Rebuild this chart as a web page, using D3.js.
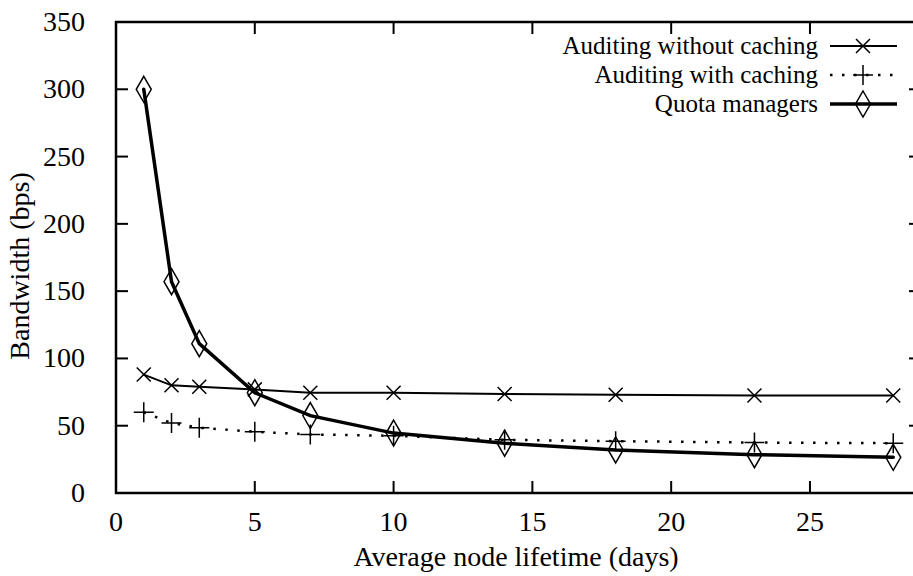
<!DOCTYPE html>
<html>
<head>
<meta charset="utf-8">
<script src="https://cdnjs.cloudflare.com/ajax/libs/d3/7.8.5/d3.min.js"></script>
</head>
<body style="margin:0; background:#fff">
<div id="chart"></div>
<script>
// lifetimes (days) and measured bandwidths (bps)
const lifetimes = [1, 2, 3, 5, 7, 10, 14, 18, 23, 28];
const noCaching = [88, 80, 79, 77, 74.5, 74.5, 73.5, 73, 72.5, 72.5];
const withCaching = [60, 52, 48.5, 45.5, 43.5, 42.5, 39.5, 38.5, 37.5, 37];
const quota = [300, 157, 111, 74.5, 57.5, 44.5, 37, 32, 28.5, 26.5];

const seriesNames = ["Auditing without caching", "Auditing with caching", "Quota managers"];
const xTicks = [0, 5, 10, 15, 20, 25];
const yTicks = [0, 50, 100, 150, 200, 250, 300, 350];

const width = 913, height = 576;
const margin = { left: 116, right: -8, top: 22, bottom: 83 };
const fs = 28;
const font = "'Liberation Serif', serif";

const svg = d3.select("#chart").append("svg")
  .attr("width", width)
  .attr("height", height);

const x = d3.scaleLinear().domain([0, 29]).range([margin.left, width - margin.right]);
const y = d3.scaleLinear().domain([0, 350]).range([height - margin.bottom, margin.top]);

function label(sel, size) {
  return sel.style("font-family", font).attr("font-size", size || fs).attr("fill", "#000");
}

// frame
svg.append("rect")
  .attr("x", x(0)).attr("y", y(350))
  .attr("width", x(29) - x(0)).attr("height", y(0) - y(350))
  .attr("fill", "none").attr("stroke", "#000").attr("stroke-width", 2.5);

// ticks (inward, on all four sides)
const tickLen = 12;
svg.append("g").selectAll("line").data(xTicks.slice(1)).join("line")
  .attr("x1", d => x(d)).attr("x2", d => x(d))
  .attr("y1", y(0)).attr("y2", y(0) - tickLen)
  .attr("stroke", "#000").attr("stroke-width", 2);
svg.append("g").selectAll("line").data(xTicks.slice(1)).join("line")
  .attr("x1", d => x(d)).attr("x2", d => x(d))
  .attr("y1", y(350)).attr("y2", y(350) + tickLen)
  .attr("stroke", "#000").attr("stroke-width", 2);
svg.append("g").selectAll("line").data(yTicks.slice(1, -1)).join("line")
  .attr("x1", x(0)).attr("x2", x(0) + tickLen)
  .attr("y1", d => y(d)).attr("y2", d => y(d))
  .attr("stroke", "#000").attr("stroke-width", 2);
svg.append("g").selectAll("line").data(yTicks.slice(1, -1)).join("line")
  .attr("x1", x(29)).attr("x2", x(29) - tickLen)
  .attr("y1", d => y(d)).attr("y2", d => y(d))
  .attr("stroke", "#000").attr("stroke-width", 2);

// tick labels
svg.append("g").selectAll("text").data(xTicks).join("text")
  .attr("x", d => x(d)).attr("y", y(0) + 38)
  .attr("text-anchor", "middle")
  .call(label)
  .text(d => d);
svg.append("g").selectAll("text").data(yTicks).join("text")
  .attr("x", 85).attr("y", d => y(d) + 9)
  .attr("text-anchor", "end")
  .call(label)
  .text(d => d);

// axis titles
svg.append("text")
  .attr("x", 516).attr("y", 566)
  .attr("text-anchor", "middle")
  .call(label)
  .text("Average node lifetime (days)");
svg.append("text")
  .attr("transform", "translate(29,266) rotate(-90)")
  .attr("text-anchor", "middle")
  .call(label)
  .text("Bandwidth (bps)");

const line = d3.line().x((d, i) => x(lifetimes[i])).y(d => y(d));

const styles = [
  { w: 2, dash: null },
  { w: 2.5, dash: "2.5,9.5" },
  { w: 3.5, dash: null }
];

function marker(g, kind, cx, cy) {
  let p;
  if (kind === 0) p = `M${cx-7},${cy-7}L${cx+7},${cy+7}M${cx-7},${cy+7}L${cx+7},${cy-7}`;
  else if (kind === 1) p = `M${cx-10},${cy}L${cx+10},${cy}M${cx},${cy-10}L${cx},${cy+10}`;
  else p = `M${cx},${cy-13}L${cx+7.5},${cy}L${cx},${cy+13}L${cx-7.5},${cy}Z`;
  g.append("path").attr("d", p)
    .attr("fill", "none").attr("stroke", "#000").attr("stroke-width", 1.5);
}

[noCaching, withCaching, quota].forEach((vals, k) => {
  const s = styles[k];
  svg.append("path").datum(vals).attr("d", line)
    .attr("fill", "none").attr("stroke", "#000")
    .attr("stroke-width", s.w)
    .attr("stroke-dasharray", s.dash)
    .attr("stroke-linecap", s.dash ? "butt" : "round");
  const g = svg.append("g");
  vals.forEach((v, i) => marker(g, k, x(lifetimes[i]), y(v)));
});

// legend
const legY = [46, 75, 104];
seriesNames.forEach((name, k) => {
  svg.append("text")
    .attr("x", 818).attr("y", legY[k] + 8)
    .attr("text-anchor", "end")
    .call(label, 25)
    .text(name);
  svg.append("line")
    .attr("x1", 830).attr("x2", 897)
    .attr("y1", legY[k]).attr("y2", legY[k])
    .attr("stroke", "#000").attr("stroke-width", styles[k].w)
    .attr("stroke-dasharray", styles[k].dash);
  marker(svg.append("g"), k, 863, legY[k]);
});
</script>
</body>
</html>
